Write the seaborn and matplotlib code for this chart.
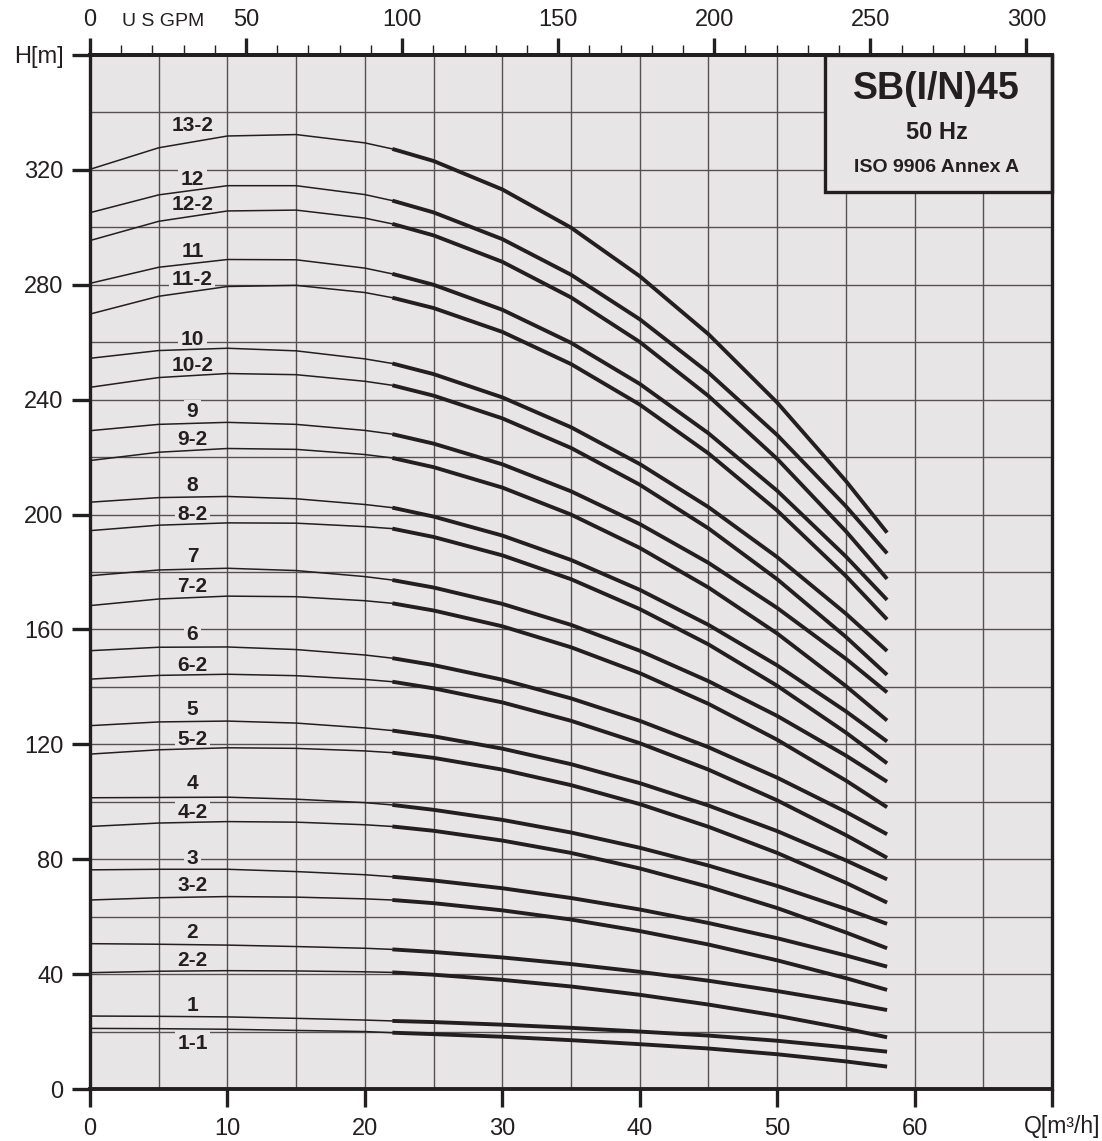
import numpy as np
import pandas as pd
import matplotlib
matplotlib.use("Agg")
import matplotlib.pyplot as plt
import seaborn as sns
from matplotlib.patches import Rectangle
from matplotlib.ticker import MultipleLocator

# flow values (m3/h) at which the curves were read
q = [0, 5, 10, 15, 20, 22, 25, 30, 35, 40, 45, 50, 55, 58]

# head (m) of each pump curve at the flows above
h_13_2 = [320.2, 327.7, 331.8, 332.3, 329.4, 327.3, 323.1, 313.2, 299.9, 283.0, 262.8, 239.0, 211.7, 193.7]
h_12 = [305.1, 311.3, 314.5, 314.5, 311.4, 309.3, 305.2, 295.9, 283.5, 268.0, 249.4, 227.7, 202.9, 186.5]
h_12_2 = [295.4, 302.1, 305.7, 306.0, 303.2, 301.2, 297.2, 288.0, 275.6, 260.1, 241.3, 219.4, 194.2, 177.6]
h_11 = [280.5, 286.1, 288.8, 288.7, 285.8, 283.8, 280.0, 271.3, 259.8, 245.5, 228.3, 208.3, 185.4, 170.3]
h_11_2 = [269.8, 276.0, 279.4, 279.8, 277.3, 275.5, 271.9, 263.6, 252.4, 238.3, 221.3, 201.4, 178.6, 163.5]
h_10 = [254.4, 257.1, 257.9, 257.0, 254.2, 252.6, 248.9, 240.8, 230.4, 217.6, 202.6, 185.2, 165.5, 152.5]
h_10_2 = [244.3, 247.7, 249.1, 248.7, 246.4, 245.0, 241.4, 233.5, 223.2, 210.4, 195.2, 177.5, 157.4, 144.2]
h_9 = [229.2, 231.4, 232.1, 231.4, 229.3, 228.0, 224.7, 217.5, 208.1, 196.7, 183.2, 167.5, 149.8, 138.1]
h_9_2 = [218.8, 221.7, 223.0, 222.7, 220.9, 219.7, 216.5, 209.4, 200.0, 188.4, 174.6, 158.6, 140.3, 128.3]
h_8 = [204.3, 205.9, 206.3, 205.5, 203.5, 202.4, 199.3, 192.7, 184.2, 173.8, 161.6, 147.5, 131.5, 121.0]
h_8_2 = [194.4, 196.3, 197.1, 197.0, 195.8, 195.1, 192.2, 185.8, 177.5, 167.1, 154.8, 140.4, 124.1, 113.4]
h_7 = [178.7, 180.7, 181.3, 180.5, 178.4, 177.2, 174.6, 168.9, 161.6, 152.6, 142.0, 129.9, 116.1, 107.0]
h_7_2 = [168.3, 170.6, 171.6, 171.4, 170.0, 169.1, 166.6, 161.1, 153.8, 144.8, 134.1, 121.6, 107.4, 98.1]
h_6 = [152.6, 153.8, 153.9, 153.0, 151.1, 150.0, 147.6, 142.5, 136.0, 128.2, 119.0, 108.4, 96.5, 88.7]
h_6_2 = [142.7, 144.0, 144.4, 143.9, 142.6, 141.8, 139.5, 134.6, 128.2, 120.4, 111.2, 100.5, 88.4, 80.5]
h_5 = [126.5, 127.8, 128.1, 127.4, 125.7, 124.8, 122.8, 118.5, 113.1, 106.5, 98.7, 89.8, 79.6, 73.0]
h_5_2 = [116.6, 118.1, 118.8, 118.6, 117.7, 117.1, 115.3, 111.2, 105.8, 99.2, 91.3, 82.2, 71.8, 64.9]
h_4 = [101.4, 101.5, 101.6, 100.9, 99.7, 98.9, 97.2, 93.7, 89.3, 84.0, 77.8, 70.7, 62.7, 57.5]
h_4_2 = [91.4, 92.6, 93.1, 92.9, 92.0, 91.4, 89.9, 86.5, 82.2, 76.8, 70.4, 63.0, 54.5, 49.0]
h_3 = [76.3, 76.5, 76.5, 75.7, 74.6, 73.9, 72.6, 69.9, 66.5, 62.5, 57.8, 52.5, 46.5, 42.6]
h_3_2 = [65.8, 66.6, 67.0, 66.8, 66.2, 65.8, 64.7, 62.2, 59.0, 55.0, 50.3, 44.8, 38.6, 34.5]
h_2 = [50.6, 50.4, 50.1, 49.6, 49.0, 48.6, 47.7, 45.8, 43.5, 40.8, 37.7, 34.1, 30.1, 27.5]
h_2_2 = [40.5, 41.0, 41.2, 41.1, 40.8, 40.6, 39.8, 38.0, 35.7, 32.8, 29.4, 25.5, 21.0, 18.0]
h_1 = [25.4, 25.3, 25.1, 24.6, 24.0, 23.7, 23.3, 22.4, 21.3, 20.0, 18.6, 16.8, 14.5, 13.0]
h_1_1 = [21.1, 21.0, 20.8, 20.4, 20.0, 19.6, 19.1, 18.2, 17.0, 15.6, 14.1, 12.1, 9.6, 7.8]

names = ["13-2", "12", "12-2", "11", "11-2", "10", "10-2", "9", "9-2", "8", "8-2",
         "7", "7-2", "6", "6-2", "5", "5-2", "4", "4-2", "3", "3-2", "2", "2-2", "1", "1-1"]
heads = [h_13_2, h_12, h_12_2, h_11, h_11_2, h_10, h_10_2, h_9, h_9_2, h_8, h_8_2,
         h_7, h_7_2, h_6, h_6_2, h_5, h_5_2, h_4, h_4_2, h_3, h_3_2, h_2, h_2_2, h_1, h_1_1]

# where the curve names sit (head, m)
label_h = [335.3, 316.5, 308.0, 291.5, 282.0, 261.1, 251.9, 235.8, 226.0, 210.0, 199.9,
           185.3, 174.9, 158.4, 147.6, 132.2, 121.8, 106.2, 96.2, 80.1, 70.7, 54.4, 44.9, 28.9, 15.9]

q_split = 22      # thin line below this flow, thick above
gpm_per_m3h = 4.403

BG = "#e7e5e6"
INK = "#231f20"
GRID = "#555153"

# long table for seaborn
rows = []
for name, vals in zip(names, heads):
    for qq, hh in zip(q, vals):
        rows.append({"pump": name, "Q": qq, "H": hh})
df = pd.DataFrame(rows)

sns.set_theme(style="ticks")
plt.rcParams['font.family'] = ['Liberation Sans', 'DejaVu Sans']

fig = plt.figure(figsize=(11.02, 11.41), dpi=100)
ax = fig.add_axes([90 / 1102, 52 / 1141, 962 / 1102, 1034 / 1141])
ax.set_facecolor(BG)

sns.lineplot(data=df[df.Q <= q_split], x="Q", y="H", units="pump", estimator=None,
             color=INK, lw=1.1, legend=False, ax=ax, zorder=2)
sns.lineplot(data=df[df.Q >= q_split], x="Q", y="H", units="pump", estimator=None,
             color=INK, lw=2.8, legend=False, ax=ax, zorder=2, solid_capstyle="butt")

ax.set_xlim(0, 70)
ax.set_ylim(0, 360)
ax.set_xlabel("")
ax.set_ylabel("")

# ticks and grid
ax.set_xticks(range(0, 71, 10))
ax.set_xticklabels([str(v) for v in range(0, 61, 10)] + [""])
ax.set_yticks(range(0, 361, 40))
ax.set_yticklabels([str(v) for v in range(0, 321, 40)] + ["H[m]"])
ax.xaxis.set_minor_locator(MultipleLocator(5))
ax.yaxis.set_minor_locator(MultipleLocator(20))
ax.set_axisbelow(True)
ax.grid(True, which="both", color=GRID, lw=1.0)
ax.tick_params(which="major", direction="out", length=13, width=2.4, color=INK,
               labelsize=17, labelcolor=INK, pad=6)
ax.tick_params(axis="x", which="major", pad=8)
ax.tick_params(which="minor", length=0)
for side in ["left", "right"]:
    ax.spines[side].set_linewidth(2.4)
    ax.spines[side].set_color(INK)
for side in ["top", "bottom"]:
    ax.spines[side].set_linewidth(2.8)
    ax.spines[side].set_color(INK)

# US GPM scale on top
sec = ax.secondary_xaxis("top", functions=(lambda x: x * gpm_per_m3h, lambda g: g / gpm_per_m3h))
sec.set_xticks(range(0, 301, 50))
sec.xaxis.set_minor_locator(MultipleLocator(10))
sec.tick_params(which="major", direction="out", length=12, width=2.4, color=INK,
                labelsize=17, labelcolor=INK, pad=5)
sec.tick_params(which="minor", direction="out", length=7, width=1.0, color=INK)
sec.spines["top"].set_linewidth(2.8)
sec.spines["top"].set_color(INK)
fig.text(163 / 1102, 1 - 21 / 1141, "U S GPM", ha="center", va="center", fontsize=14, color=INK)
fig.text(1062 / 1102, 1 - 1127 / 1141, "Q[m³/h]", ha="center", va="center", fontsize=16.5, color=INK)

# curve names
for name, hy in zip(names, label_h):
    ax.text(7.45, hy, name, ha="center", va="center", fontsize=15, fontweight="bold",
            color=INK, zorder=1.8,
            bbox=dict(boxstyle="square,pad=0.12", fc=BG, ec="none"))

# title box
ax.add_patch(Rectangle((53.45, 312.4), 70 - 53.45, 360 - 312.4, fc=BG, ec=INK, lw=2.4,
                       zorder=2.5, clip_on=False))
ax.text(61.6, 348.2, "SB(I/N)45", ha="center", va="center", fontsize=27,
        fontweight="bold", color=INK, zorder=3)
ax.text(61.6, 333.0, "50 Hz", ha="center", va="center", fontsize=17,
        fontweight="bold", color=INK, zorder=3)
ax.text(61.6, 321.0, "ISO 9906 Annex A", ha="center", va="center", fontsize=14,
        fontweight="bold", color=INK, zorder=3)

fig.savefig("out.png", dpi=100)
